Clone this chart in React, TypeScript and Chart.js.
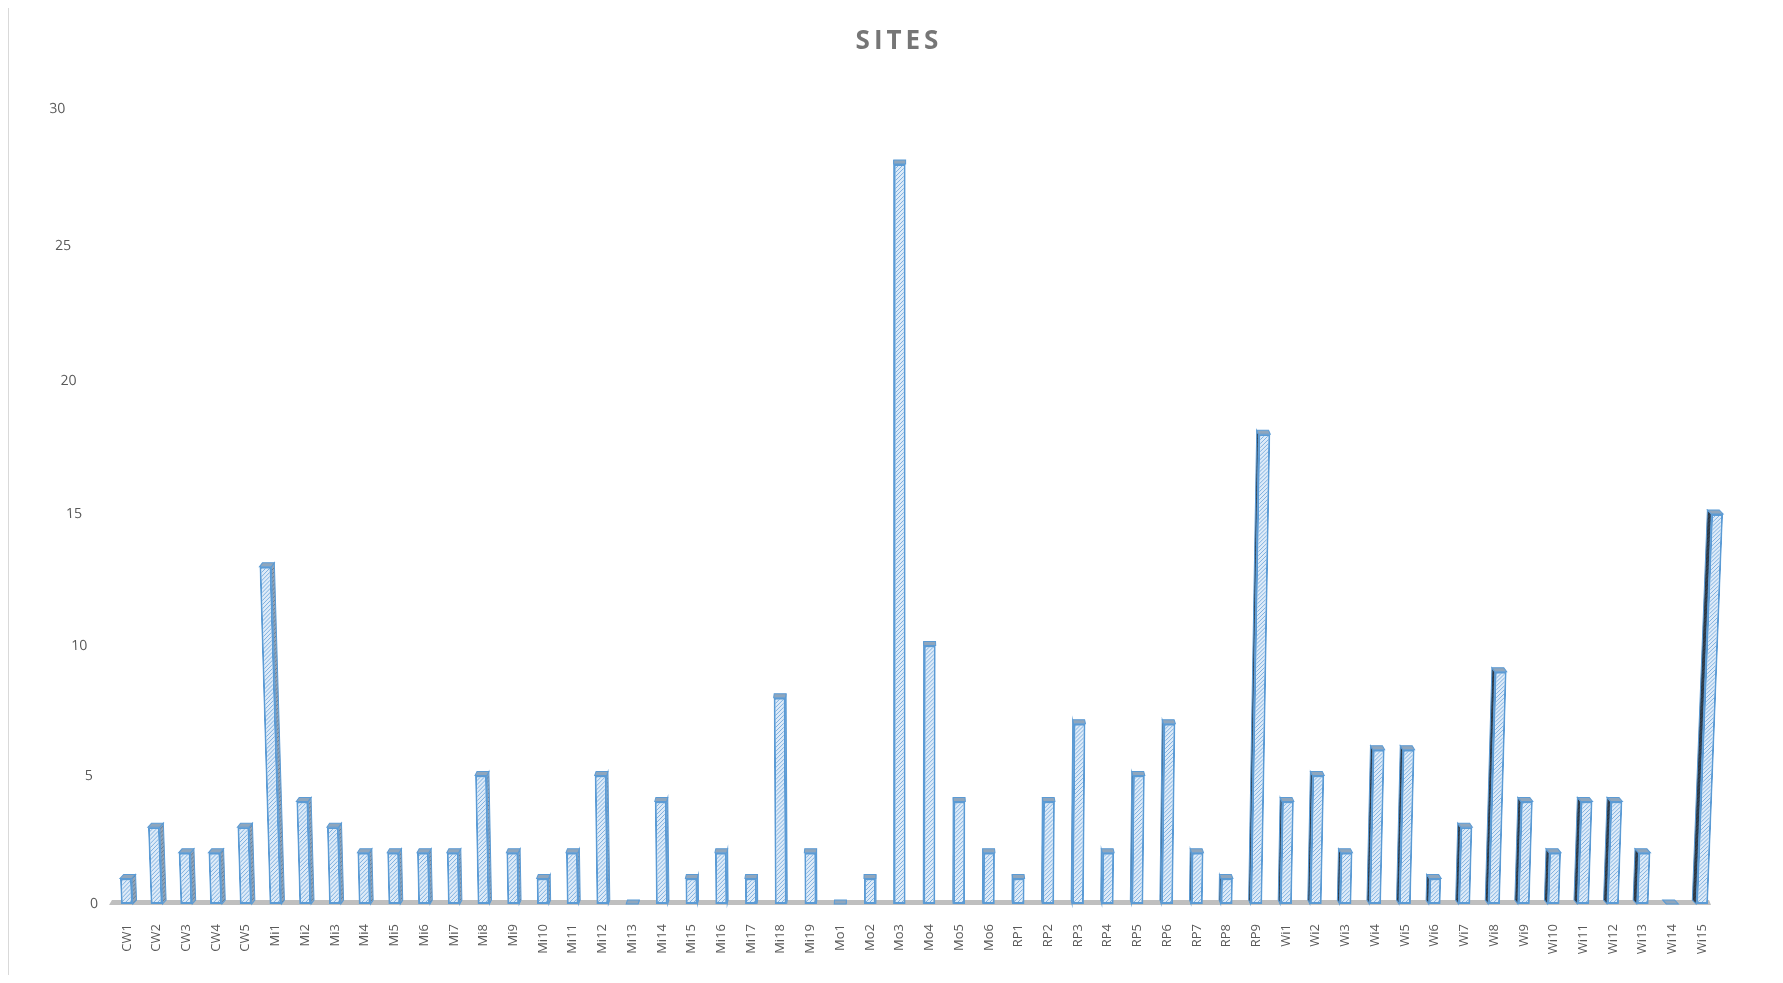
import React, { useEffect, useRef } from "react";
import { Chart, registerables, LinearScale } from "chart.js";

Chart.register(...registerables);

// Linear scale seen in perspective (spacing grows slightly towards the top, as in the 3-D original)
const PERSPECTIVE_C = 0.0365;
class PerspectiveScale extends (LinearScale as any) {
  static id = "perspective";
  static defaults = (LinearScale as any).defaults;
  getPixelForValue(value: number) {
    const t = (value - this.min) / (this.max - this.min);
    const g = (t * (1 - PERSPECTIVE_C)) / (1 - PERSPECTIVE_C * t);
    return this.getPixelForDecimal(g);
  }
  getValueForPixel(pixel: number) {
    const g = this.getDecimalForPixel(pixel);
    const t = g / (1 - PERSPECTIVE_C + PERSPECTIVE_C * g);
    return this.min + t * (this.max - this.min);
  }
}
Chart.register(PerspectiveScale as any);

const categories = [
  "CW1", "CW2", "CW3", "CW4", "CW5",
  "Mi1", "Mi2", "Mi3", "Mi4", "Mi5", "Mi6", "Mi7", "Mi8", "Mi9", "Mi10",
  "Mi11", "Mi12", "Mi13", "Mi14", "Mi15", "Mi16", "Mi17", "Mi18", "Mi19",
  "Mo1", "Mo2", "Mo3", "Mo4", "Mo5", "Mo6",
  "RP1", "RP2", "RP3", "RP4", "RP5", "RP6", "RP7", "RP8", "RP9",
  "Wi1", "Wi2", "Wi3", "Wi4", "Wi5", "Wi6", "Wi7", "Wi8", "Wi9", "Wi10",
  "Wi11", "Wi12", "Wi13", "Wi14", "Wi15",
];

const siteCounts = [
  1, 3, 2, 2, 3,
  13, 4, 3, 2, 2, 2, 2, 5, 2, 1,
  2, 5, 0, 4, 1, 2, 1, 8, 2,
  0, 1, 28, 10, 4, 2,
  1, 4, 7, 2, 5, 7, 2, 1, 18,
  4, 5, 2, 6, 6, 1, 3, 9, 4, 2,
  4, 4, 2, 0, 15,
];

const yTickValues = [0, 5, 10, 15, 20, 25, 30];

const TITLE = "SITES";

function makeHatch(ctx: CanvasRenderingContext2D, bg: string, line: string, size = 4) {
  const c = document.createElement("canvas");
  c.width = size;
  c.height = size;
  const g = c.getContext("2d")!;
  g.fillStyle = bg;
  g.fillRect(0, 0, size, size);
  g.strokeStyle = line;
  g.lineWidth = 1;
  g.beginPath();
  g.moveTo(0, size);
  g.lineTo(size, 0);
  g.moveTo(-1, 1);
  g.lineTo(1, -1);
  g.moveTo(size - 1, size + 1);
  g.lineTo(size + 1, size - 1);
  g.stroke();
  return ctx.createPattern(c, "repeat")!;
}

const TILT_K = 4.8e-5;
const SIDE_K = 0.005;
const DEPTH = 4;
const LABEL_SKEW = -0.041;

export default function App() {
  const ref = useRef<HTMLCanvasElement | null>(null);

  useEffect(() => {
    const canvas = ref.current!;
    const ctx0 = canvas.getContext("2d")!;
    const frontPattern = makeHatch(ctx0, "#deebf8", "#7eb0e0", 4);
    const sideLeftPattern = makeHatch(ctx0, "#93a5b8", "#687c92", 4);
    const sideRightPattern = makeHatch(ctx0, "#34414f", "#26313c", 4);

    const bars3d = {
      id: "bars3d",
      beforeDraw(chart: any) {
        const ys = chart.scales.y;
        if (ys && !ys.__wrapped) {
          const orig = ys.drawLabels.bind(ys);
          ys.drawLabels = (area: any) => {
            const c = chart.ctx;
            const base = ys.getPixelForValue(0);
            c.save();
            c.transform(1, 0, -LABEL_SKEW, 1, LABEL_SKEW * base, 0);
            orig(area);
            c.restore();
          };
          ys.__wrapped = true;
        }
        const tb = chart.titleBlock;
        if (tb && !tb.__wrapped) {
          const origT = tb.draw.bind(tb);
          tb.draw = (...a: any[]) => {
            const c = chart.ctx;
            c.save();
            (c as any).letterSpacing = "4px";
            c.translate(36, 0);
            origT(...a);
            c.restore();
          };
          tb.__wrapped = true;
        }
      },
      beforeDatasetsDraw(chart: any) {
        const c = chart.ctx;
        const area = chart.chartArea;
        const base = chart.scales.y.getPixelForValue(0);
        c.save();
        c.fillStyle = "#bfbfbf";
        c.beginPath();
        c.moveTo(area.left, base - 4);
        c.lineTo(area.right - 8, base - 4);
        c.lineTo(area.right - 6, base + 1);
        c.lineTo(area.left - 3, base + 1);
        c.closePath();
        c.fill();
        c.restore();
      },
      beforeDatasetDraw(chart: any, args: any) {
        const c = chart.ctx;
        const area = chart.chartArea;
        const cx = area.left + area.width * 0.49;
        const meta = args.meta;
        meta.data.forEach((el: any) => {
          const p = el.getProps(["x", "y", "base", "width"], true);
          const left = p.x - p.width / 2;
          const right = p.x + p.width / 2;
          const top = p.y;
          const base = p.base;
          const dx = p.x - cx;
          const s = TILT_K * dx;
          const o = -dx * SIDE_K;
          c.save();
          c.transform(1, 0, -s, 1, s * base, 0);
          // side face
          c.beginPath();
          if (o > 0) {
            c.moveTo(right, top);
            c.lineTo(right + o, top - DEPTH);
            c.lineTo(right + o, base - DEPTH);
            c.lineTo(right, base);
            c.fillStyle = sideLeftPattern;
          } else {
            c.moveTo(left, top);
            c.lineTo(left + o, top - DEPTH);
            c.lineTo(left + o, base - DEPTH);
            c.lineTo(left, base);
            c.fillStyle = sideRightPattern;
          }
          c.closePath();
          c.fill();
          c.strokeStyle = "#5b9bd5";
          c.lineWidth = 1;
          c.stroke();
          // front face (library element)
          el.draw(c, area);
          // top cap
          c.beginPath();
          c.moveTo(left, top);
          c.lineTo(right, top);
          c.lineTo(right + o, top - DEPTH);
          c.lineTo(left + o, top - DEPTH);
          c.closePath();
          c.fillStyle = "#8fa6bd";
          c.fill();
          c.strokeStyle = "#5b9bd5";
          c.lineWidth = 1;
          c.stroke();
          c.restore();
        });
        return false;
      },
    };

    const chart = new Chart(canvas, {
      type: "bar",
      data: {
        labels: categories,
        datasets: [
          {
            label: TITLE,
            data: siteCounts,
            backgroundColor: frontPattern,
            borderColor: "#5b9bd5",
            borderWidth: 2,
            borderSkipped: false,
            barPercentage: 0.4,
            categoryPercentage: 1,
          },
        ],
      },
      options: {
        animation: false,
        responsive: false,
        maintainAspectRatio: false,
        layout: { padding: { top: 0, right: 66, bottom: 0, left: 0 } },
        plugins: {
          legend: { display: false },
          tooltip: { enabled: false },
          title: {
            display: true,
            text: TITLE,
            color: "#767676",
            font: { family: "'Open Sans'", size: 26, weight: "bold" },
            padding: { top: 19, bottom: 52 },
          },
        },
        scales: {
          x: {
            grid: { display: false },
            border: { display: false },
            ticks: {
              autoSkip: false,
              maxRotation: 90,
              minRotation: 90,
              padding: 12,
              color: "#595959",
              font: { family: "'Open Sans'", size: 13 },
            },
            afterFit: (scale: any) => {
              scale.height = 71;
            },
          },
          y: {
            type: "perspective" as any,
            min: 0,
            max: 30,
            grid: { display: false, drawTicks: false },
            border: { display: false },
            ticks: {
              padding: 14,
              color: "#595959",
              font: { family: "'Open Sans'", size: 14 },
            },
            afterBuildTicks: (scale: any) => {
              scale.ticks = yTickValues.map((v) => ({ value: v }));
            },
            afterFit: (scale: any) => {
              scale.width = 103;
            },
          },
        },
      },
      plugins: [bars3d as any],
    });
    return () => chart.destroy();
  }, []);

  return (
    <div
      style={{
        width: 1775,
        height: 969,
        marginTop: -2,
        boxSizing: "border-box",
        borderTop: "1px solid #d9d9d9",
        borderLeft: "1px solid #d9d9d9",
        background: "#ffffff",
        overflow: "hidden",
      }}
    >
      <canvas ref={ref} width={1774} height={968} style={{ display: "block" }} />
    </div>
  );
}
